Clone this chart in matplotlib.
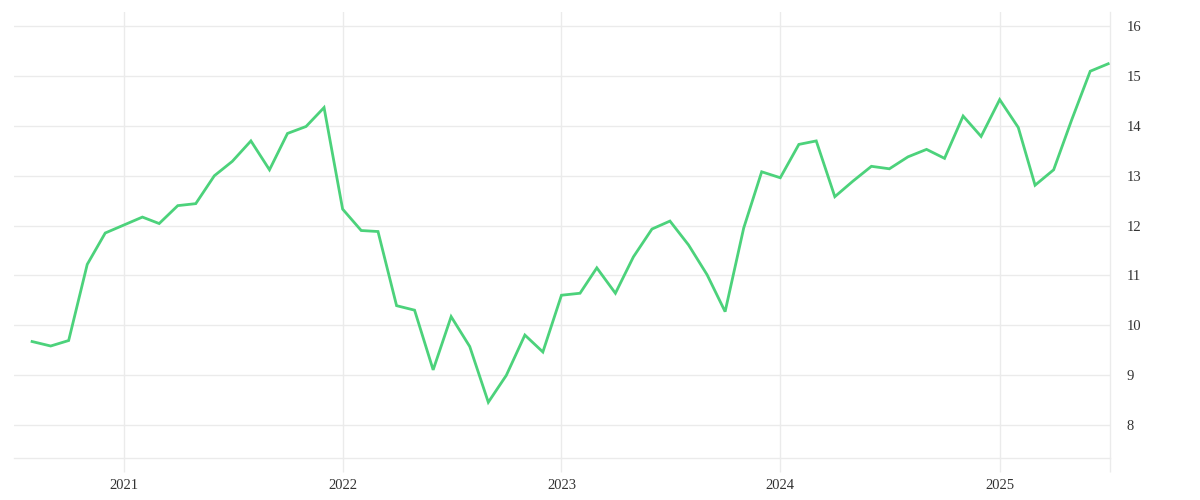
import matplotlib
matplotlib.use("Agg")
import matplotlib.pyplot as plt
import numpy as np
import pandas as pd

start_month = "2020-08-01"
values = [
    9.67, 9.58, 9.69, 11.22, 11.85,
    12.01, 12.17, 12.04, 12.40, 12.44, 13.00, 13.29, 13.70, 13.12, 13.85, 13.99, 14.37,
    12.33, 11.90, 11.88, 10.39, 10.30, 9.10, 10.17, 9.57, 8.45, 8.99, 9.80, 9.46,
    10.60, 10.64, 11.15, 10.64, 11.37, 11.93, 12.09, 11.61, 11.01, 10.27, 11.95, 13.08,
    12.96, 13.63, 13.70, 12.58, 12.89, 13.19, 13.14, 13.38, 13.53, 13.35, 14.20, 13.79,
    14.53, 13.97, 12.81, 13.12, 14.12, 15.10, 15.25,
]
dates = pd.date_range(start_month, periods=len(values), freq="MS")
year_ticks = ["2021", "2022", "2023", "2024", "2025"]
y_ticks = [8, 9, 10, 11, 12, 13, 14, 15, 16]

plt.rcParams['font.family'] = ['Liberation Serif', 'DejaVu Serif']

fig = plt.figure(figsize=(12, 5), dpi=100)
ax = fig.add_axes([13.5 / 1200, 42 / 500, (1110 - 13.5) / 1200, (458 - 12) / 500])

grid_c = "#ebebeb"
ax.plot(dates, values, color="#4cd27b", lw=2.0, solid_joinstyle="miter", zorder=3)

x_right = pd.Timestamp("2025-07-04")
ax.set_xlim(pd.Timestamp("2020-07-01"), x_right)
ax.set_ylim(7.33, 16.29)

ax.set_xticks([pd.Timestamp(f"{y}-01-01") for y in year_ticks])
ax.set_xticklabels(year_ticks)
ax.set_xticks([x_right], minor=True)
ax.set_yticks(y_ticks)
ax.set_yticklabels([str(v) for v in y_ticks])

ax.yaxis.tick_right()
ax.grid(True, which="major", color=grid_c, lw=1.0)
for s in ["top", "left"]:
    ax.spines[s].set_visible(False)
ax.spines["bottom"].set_color(grid_c)
ax.spines["right"].set_color(grid_c)
ax.spines["bottom"].set_linewidth(1.0)
ax.spines["right"].set_linewidth(1.0)

ax.tick_params(axis="x", which="both", length=10, color=grid_c, width=1.0, pad=5,
               labelsize=10.5, labelcolor="#333333")
ax.tick_params(axis="y", length=0, pad=12, labelsize=10.5, labelcolor="#333333")

fig.savefig("out.png", dpi=100, facecolor="white")
